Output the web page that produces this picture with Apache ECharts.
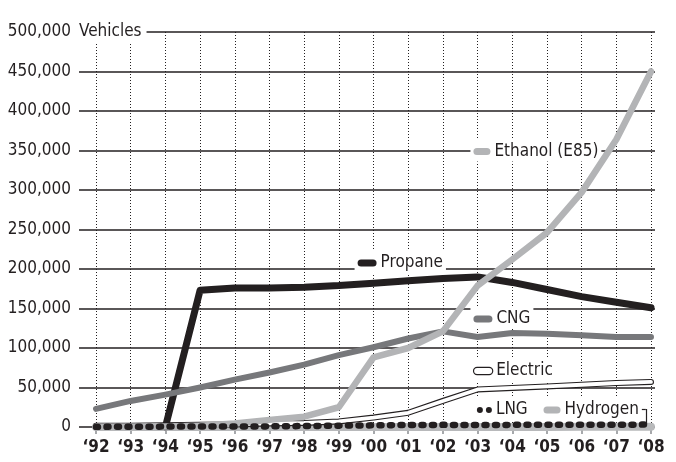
<!DOCTYPE html>
<html>
<head>
<meta charset="utf-8">
<script src="https://cdn.jsdelivr.net/npm/echarts@6/dist/echarts.min.js"></script>
<style>html,body{margin:0;padding:0;background:#fff}#c{width:676px;height:462px}</style>
</head>
<body>
<div id="c"></div>
<script>
var years = ['‘92','‘93','‘94','‘95','‘96','‘97','‘98','‘99','‘00','‘01','‘02','‘03','‘04','‘05','‘06','‘07','‘08'];
var propane = [null,null,0,173000,176000,176000,177000,179000,182000,185000,188000,190000,183000,174000,165000,158000,151000];
var cng = [23000,33000,41000,50000,60000,69000,79000,91000,101000,112000,121000,114000,119000,118000,116000,114000,114000];
var ethanol = [200,400,600,1500,4500,9000,13000,25000,88000,100000,121000,179000,212000,246000,297000,364000,450000];
var electric = [1600,1700,2200,2900,3300,4500,5200,7000,12000,18000,33000,47500,49500,51400,53500,55700,57000];
var lng = [100,300,500,600,700,800,1200,1700,2100,2600,2700,2600,2700,2700,2800,2800,3100];
var hydrogen = [0,0,0,0,0,0,0,0,0,0,0,10,40,120,160,220,310];
var yTicks = [0,50000,100000,150000,200000,250000,300000,350000,400000,450000,500000];

var FONT = '"Liberation Sans Narrow","Arial Narrow","DejaVu Sans Condensed",sans-serif';
var FS = 17;
var INK = '#231f20';
function pairs(arr){ return arr.map(function(v,i){ return [i, v]; }); }
function fmt(v){ return String(v).replace(/\B(?=(\d{3})+(?!\d))/g, ','); }

var rich = {
  t: {fontFamily: FONT, fontSize: FS, color: INK, lineHeight: 20},
  sp: {width: 4},
  g: {width: 3},
  swP: {width: 19, height: 7, backgroundColor: INK, borderRadius: 3.5},
  swC: {width: 19, height: 7, backgroundColor: '#77787b', borderRadius: 3.5},
  swE: {width: 17, height: 7, backgroundColor: '#b3b4b6', borderRadius: 3.5},
  swH: {width: 17, height: 7, backgroundColor: '#b3b4b6', borderRadius: 3.5},
  swEl: {width: 18, height: 6, backgroundColor: '#fff', borderColor: INK, borderWidth: 1.2, borderRadius: 4},
  d: {width: 6, height: 6, backgroundColor: INK, borderRadius: 3}
};
function lbl(x, v, text){
  return {coord: [x, v], value: text};
}

var chart = echarts.init(document.getElementById('c'), null, {renderer: 'canvas'});
chart.setOption({
  animation: false,
  grid: [
    {left: 79, right: 21, top: 32, bottom: 35},
    {left: 96, right: 25, top: 32, bottom: 35}
  ],
  xAxis: [
    {gridIndex: 0, type: 'value', min: 0, max: 1, show: false},
    {gridIndex: 1, type: 'value', min: 0, max: 16, interval: 1, z: 1,
     axisLine: {show: false},
     axisTick: {show: true, length: 7, lineStyle: {color: '#a7a9ac', width: 2}},
     splitLine: {show: true, lineStyle: {color: INK, width: 1, type: [1, 2]}},
     axisLabel: {margin: 12, fontFamily: FONT, fontWeight: 'bold', fontSize: FS, color: INK,
       formatter: function(v){ return years[v] || ''; }}
    }
  ],
  yAxis: [
    {gridIndex: 0, type: 'value', min: 0, max: 500000, interval: 50000, z: 2,
     axisLine: {show: false}, axisTick: {show: false},
     splitLine: {show: true, lineStyle: {color: INK, width: 1.6}},
     axisLabel: {margin: 8, fontFamily: FONT, fontSize: FS, color: INK,
       formatter: function(v){ return yTicks.indexOf(v) >= 0 ? fmt(v) : ''; }},
     name: 'Vehicles', nameLocation: 'end', nameGap: 0,
     nameTextStyle: {fontFamily: FONT, fontSize: FS, color: INK, align: 'left', verticalAlign: 'middle',
       backgroundColor: '#fff', padding: [3, 5, 3, 0]}
    },
    {gridIndex: 1, type: 'value', min: 0, max: 500000, show: false}
  ],
  series: [
    {name: 'Hydrogen', type: 'line', xAxisIndex: 1, yAxisIndex: 1, data: pairs(hydrogen), symbol: 'none',
     lineStyle: {color: '#b8b9bb', width: 8, cap: 'round', join: 'round'}, z: 3,
     markLine: {symbol: 'none', silent: true, label: {show: false},
       lineStyle: {color: INK, width: 1.2, type: 'solid'},
       data: [[{coord: [15.66, 22800]}, {coord: [15.85, 22800]}], [{coord: [15.85, 22800]}, {coord: [15.85, 3800]}]]}
    },
    {name: 'ElectricOutline', type: 'line', xAxisIndex: 1, yAxisIndex: 1, data: pairs(electric), symbol: 'none',
     lineStyle: {color: INK, width: 6, cap: 'round', join: 'round'}, z: 4},
    {name: 'Electric', type: 'line', xAxisIndex: 1, yAxisIndex: 1, data: pairs(electric), symbol: 'none',
     lineStyle: {color: '#fff', width: 3.8, cap: 'round', join: 'round'}, z: 5},
    {name: 'Propane', type: 'line', xAxisIndex: 1, yAxisIndex: 1, data: pairs(propane), symbol: 'none',
     lineStyle: {color: INK, width: 7, cap: 'round', join: 'round'}, z: 7},
    {name: 'CNG', type: 'line', xAxisIndex: 1, yAxisIndex: 1, data: pairs(cng), symbol: 'none',
     lineStyle: {color: '#77787b', width: 6, cap: 'round', join: 'round'}, z: 8},
    {name: 'Ethanol (E85)', type: 'line', xAxisIndex: 1, yAxisIndex: 1, data: pairs(ethanol), symbol: 'none',
     lineStyle: {color: '#b3b4b6', width: 6.5, cap: 'round', join: 'round'}, z: 9},
    {name: 'LNG', type: 'line', xAxisIndex: 1, yAxisIndex: 1, data: pairs(lng), symbol: 'none',
     lineStyle: {color: INK, width: 6.5, type: [2, 8.5], cap: 'round', join: 'round'}, z: 9.5},
    {name: 'labels', type: 'line', xAxisIndex: 1, yAxisIndex: 1, data: [], z: 10,
     markPoint: {
       symbol: 'rect', symbolSize: 1, itemStyle: {color: 'rgba(0,0,0,0)'}, silent: true,
       label: {show: true, position: 'right', distance: 0, backgroundColor: '#fff', padding: [2, 3, 0, 3],
         rich: rich, formatter: function(p){ return p.value; }},
       data: [
         lbl(10.78, 350000, '{swE|}{sp|}{t|Ethanol (E85)}'),
         lbl(7.44, 209000, '{swP|}{sp|}{t|Propane}'),
         lbl(10.78, 138000, '{swC|}{sp|}{t|CNG}'),
         lbl(10.80, 72200, '{swEl|}{sp|}{t|Electric}'),
         lbl(10.88, 22800, '{d|}{g|}{d|}{sp|}{t|LNG}'),
         lbl(12.80, 22800, '{swH|}{sp|}{t|Hydrogen}')
       ]
     }
    }
  ]
});
</script>
</body>
</html>
